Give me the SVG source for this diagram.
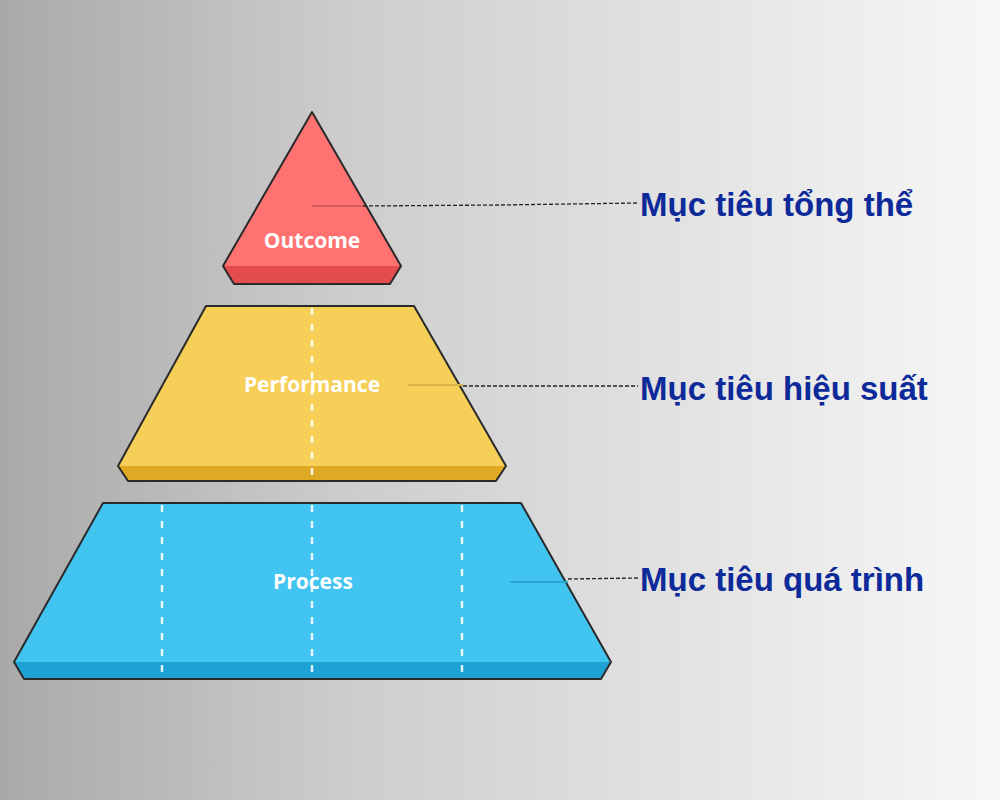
<svg xmlns="http://www.w3.org/2000/svg" width="1000" height="800" viewBox="0 0 1000 800">
<defs>
<linearGradient id="bg" x1="0" y1="0" x2="1" y2="0">
<stop offset="0" stop-color="#a9a9a9"/><stop offset="0.35" stop-color="#cdcdcd"/><stop offset="1" stop-color="#f7f7f7"/>
</linearGradient>
<style>
.edge{stroke:#2a2a2a;stroke-width:2;stroke-linejoin:round}
.lbl{font-family:"Open Sans","DejaVu Sans",sans-serif;font-weight:bold;font-size:21px;fill:#fff;text-anchor:middle}
.ttl{font-family:"Liberation Sans",Arial,sans-serif;font-weight:bold;font-size:33px;fill:#0d2a9a}
.dash{stroke:#222;stroke-width:1.3;stroke-dasharray:4 2;fill:none}
.inner{stroke-width:2;fill:none}
.grid{stroke:#fff;stroke-width:2.5;stroke-dasharray:7 9;opacity:0.85}
</style>
</defs>
<rect width="1000" height="800" fill="url(#bg)"/>
<g id="outcome">
<polygon points="312,112 401,266 390,284 234,284 223,266" fill="#fe7272"/>
<polygon points="223,266 401,266 390,284 234,284" fill="#e44c4e"/>
<polygon class="edge" points="312,112 401,266 390,284 234,284 223,266" fill="none"/>
<text class="lbl" x="312" y="248">Outcome</text>
</g>
<g id="performance">
<polygon points="206,306 414,306 506,466 496,481 128,481 118,466" fill="#f6cf58"/>
<polygon points="118,466 506,466 496,481 128,481" fill="#e0a924"/>
<line class="grid" x1="312" y1="308" x2="312" y2="480"/>
<polygon class="edge" points="206,306 414,306 506,466 496,481 128,481 118,466" fill="none"/>
<text class="lbl" x="312" y="392">Performance</text>
</g>
<g id="process">
<polygon points="103,503 521,503 611,662 601,679 24,679 14,662" fill="#41c4ef"/>
<polygon points="14,662 611,662 601,679 24,679" fill="#1ea2d6"/>
<line class="grid" x1="162" y1="505" x2="162" y2="678"/>
<line class="grid" x1="312" y1="505" x2="312" y2="678"/>
<line class="grid" x1="462" y1="505" x2="462" y2="678"/>
<polygon class="edge" points="103,503 521,503 611,662 601,679 24,679 14,662" fill="none"/>
<text class="lbl" x="313" y="589">Process</text>
</g>
<g id="connectors">
<line class="inner" x1="312" y1="206" x2="363" y2="206" stroke="#d95a5c"/>
<polyline class="dash" points="363,206 500,205 638,203"/>
<line class="inner" x1="408" y1="385" x2="463" y2="385" stroke="#d9b24a"/>
<polyline class="dash" points="463,386 638,386"/>
<line class="inner" x1="510" y1="582" x2="568" y2="582" stroke="#2aa6d4"/>
<polyline class="dash" points="568,579 638,578"/>
</g>
<g id="labels">
<text class="ttl" x="640" y="216">Mục tiêu tổng thể</text>
<text class="ttl" x="640" y="400">Mục tiêu hiệu suất</text>
<text class="ttl" x="640" y="591">Mục tiêu quá trình</text>
</g>
</svg>
